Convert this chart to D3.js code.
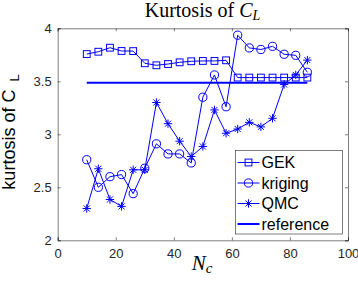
<!DOCTYPE html>
<html>
<head>
<meta charset="utf-8">
<script src="https://cdn.jsdelivr.net/npm/d3@7"></script>
<style>
  body { margin: 0; background: #fff; }
  svg { display: block; }
</style>
</head>
<body>
<svg id="chart" width="358" height="283"></svg>
<script>
// sample counts
const nc = [10, 14, 18, 22, 26, 30, 34, 38, 42, 46, 50, 54, 58, 62, 66, 70, 74, 78, 82, 86];
const gek = [3.757, 3.779, 3.817, 3.786, 3.785, 3.670, 3.651, 3.663, 3.679, 3.689,
             3.692, 3.692, 3.698, 3.535, 3.535, 3.535, 3.535, 3.535, 3.535, 3.535];
const kriging = [2.76, 2.50, 2.60, 2.62, 2.44, 2.68, 2.91, 2.815, 2.815, 2.73,
                 3.35, 3.56, 3.26, 3.935, 3.815, 3.80, 3.83, 3.755, 3.745, 3.585];
const qmc = [2.30, 2.675, 2.385, 2.32, 2.665, 2.665, 3.30, 3.10, 2.935, 2.79,
             2.885, 3.23, 3.01, 3.05, 3.113, 3.07, 3.151, 3.47, 3.56, 3.70];
const reference = 3.487;
const xTicks = [0, 20, 40, 60, 80, 100];
const yTicks = [2, 2.5, 3, 3.5, 4];
const legendLabels = ["GEK", "kriging", "QMC", "reference"];

const svg = d3.select("#chart");
const plotL = 57.7, plotR = 348, plotT = 28.3, plotB = 240.3;
const blue = "#0000ff", axisColor = "#262626";

const x = d3.scaleLinear().domain([0, 100]).range([plotL, plotR]);
const y = d3.scaleLinear().domain([2, 4]).range([plotB, plotT]);

// axes: bottom/left with labels, top/right ticks only (box)
const tickLen = 3;
svg.append("g").attr("transform", `translate(0,${plotB})`)
  .call(d3.axisBottom(x).tickValues(xTicks).tickSize(-tickLen).tickPadding(8).tickFormat(d3.format("d")));
svg.append("g").attr("transform", `translate(${plotL},0)`)
  .call(d3.axisLeft(y).tickValues(yTicks).tickSize(-tickLen).tickPadding(6).tickFormat(d => d));
svg.append("g").attr("transform", `translate(0,${plotT})`)
  .call(d3.axisTop(x).tickValues(xTicks).tickSize(-tickLen).tickFormat(""));
svg.append("g").attr("transform", `translate(${plotR},0)`)
  .call(d3.axisRight(y).tickValues(yTicks).tickSize(-tickLen).tickFormat(""));

svg.selectAll(".domain, .tick line").attr("stroke", axisColor).attr("stroke-width", 0.6);
svg.selectAll(".tick text")
  .attr("fill", axisColor)
  .style("font-family", "'Liberation Sans', Arial, sans-serif")
  .style("font-size", "13px");

// reference line
svg.append("line")
  .attr("x1", x(nc[0])).attr("x2", x(nc[nc.length - 1]))
  .attr("y1", y(reference)).attr("y2", y(reference))
  .attr("stroke", blue).attr("stroke-width", 2);

const line = d3.line().x(d => x(d[0])).y(d => y(d[1]));

function drawMarker(g, type, cx, cy) {
  if (type === "square") {
    g.append("rect").attr("x", cx - 3.4).attr("y", cy - 3.4)
      .attr("width", 6.8).attr("height", 6.8)
      .attr("fill", "none").attr("stroke", blue).attr("stroke-width", 1);
  } else if (type === "circle") {
    g.append("circle").attr("cx", cx).attr("cy", cy).attr("r", 4.1)
      .attr("fill", "none").attr("stroke", blue).attr("stroke-width", 1);
  } else if (type === "star") {
    const a = 4.2, b = 3;
    g.append("path")
      .attr("d", `M${cx - a},${cy}H${cx + a}M${cx},${cy - a}V${cy + a}` +
                 `M${cx - b},${cy - b}L${cx + b},${cy + b}M${cx - b},${cy + b}L${cx + b},${cy - b}`)
      .attr("stroke", blue).attr("stroke-width", 1).attr("fill", "none");
  }
}

const series = [
  { vals: gek, marker: "square" },
  { vals: kriging, marker: "circle" },
  { vals: qmc, marker: "star" }
];

series.forEach(s => {
  const pts = nc.map((n, i) => [n, s.vals[i]]);
  const g = svg.append("g");
  g.append("path").attr("d", line(pts))
    .attr("fill", "none").attr("stroke", blue).attr("stroke-width", 1);
  pts.forEach(p => drawMarker(g, s.marker, x(p[0]), y(p[1])));
});

// legend
const lg = svg.append("g");
lg.append("rect").attr("x", 235.5).attr("y", 150.5).attr("width", 107).attr("height", 83.5)
  .attr("fill", "#fff").attr("stroke", axisColor).attr("stroke-width", 0.6);
const legendMarkers = ["square", "circle", "star", null];
legendLabels.forEach((lab, i) => {
  const cy = 162.5 + i * 20.5;
  lg.append("line").attr("x1", 237.5).attr("x2", 259.5).attr("y1", cy).attr("y2", cy)
    .attr("stroke", blue).attr("stroke-width", legendMarkers[i] ? 1 : 2);
  if (legendMarkers[i]) drawMarker(lg, legendMarkers[i], 248.5, cy);
  lg.append("text").attr("x", 261.5).attr("y", cy + 5.8)
    .attr("fill", "#000")
    .style("font-family", "'Liberation Sans', Arial, sans-serif")
    .style("font-size", "16px")
    .text(lab);
});

// title
const title = svg.append("text").attr("x", 202.5).attr("y", 17)
  .attr("text-anchor", "middle")
  .style("font-family", "'Liberation Serif', 'Times New Roman', serif")
  .style("font-size", "20px").attr("fill", "#000");
title.append("tspan").text("Kurtosis of ");
title.append("tspan").style("font-style", "italic").text("C");
title.append("tspan").style("font-style", "italic").style("font-size", "14px")
  .attr("dy", 3).text("L");

// x label
const xl = svg.append("text").attr("x", 202).attr("y", 270)
  .attr("text-anchor", "middle")
  .style("font-family", "'Liberation Serif', 'Times New Roman', serif")
  .style("font-size", "21px").style("font-style", "italic").attr("fill", "#000");
xl.append("tspan").text("N");
xl.append("tspan").style("font-size", "15px").attr("dy", 3).text("c");

// y label
const yl = svg.append("text").attr("transform", "translate(15,132) rotate(-90)")
  .attr("text-anchor", "middle")
  .style("font-family", "'Liberation Sans', Arial, sans-serif")
  .style("font-size", "18px").attr("fill", "#000");
yl.append("tspan").text("kurtosis of C ");
yl.append("tspan").style("font-size", "13px").attr("dy", 4).attr("dx", 3).text("L");
</script>
</body>
</html>
